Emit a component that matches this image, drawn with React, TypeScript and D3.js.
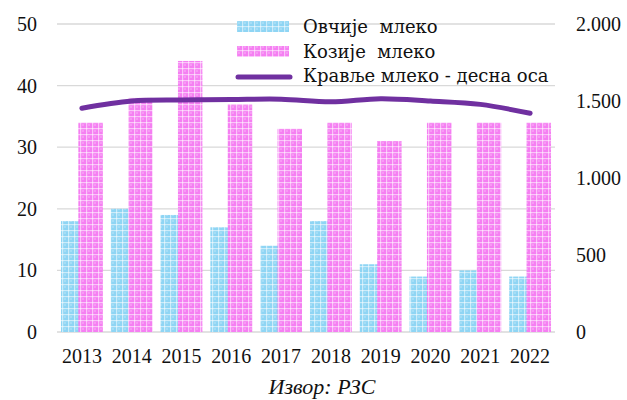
import React from "react";
import * as d3 from "d3";

const years = ["2013","2014","2015","2016","2017","2018","2019","2020","2021","2022"];
const sheepMilk = [18, 20, 19, 17, 14, 18, 11, 9, 10, 9];
const goatMilk = [34, 38, 44, 37, 33, 34, 31, 34, 34, 34];
const cowMilk = [1453, 1500, 1507, 1510, 1512, 1495, 1515, 1500, 1478, 1420];
const leftTicks = [0, 10, 20, 30, 40, 50];
const rightTicks = [0, 500, 1000, 1500, 2000];
const legendLabels = ["Овчије  млеко", "Козије  млеко", "Кравље млеко - десна оса"];
const sourceText = "Извор: РЗС";

export default function App() {
  const W = 627, H = 400;
  const left = 57, right = 555, top = 24, bottom = 332;
  const x = d3.scaleBand<string>().domain(years).range([left, right]).paddingInner(0.16).paddingOuter(0.08);
  const yL = d3.scaleLinear().domain([0, 50]).range([bottom, top]);
  const yR = d3.scaleLinear().domain([0, 2000]).range([bottom, top]);
  const bw = x.bandwidth();
  const barW = bw * 0.585;
  const fmt = (v: number) => v === 0 ? "0" : d3.format(",")(v).replace(/,/g, ".");
  const line = d3.line<number>()
    .x((_, i) => (x(years[i]) as number) + bw / 2)
    .y((d) => yR(d))
    .curve(d3.curveCatmullRom.alpha(0.5));
  const font = "'Liberation Serif', serif";
  const legendFont = "'DejaVu Serif', serif";

  return (
    <svg width={W} height={H} style={{ position: "absolute", left: 0, top: 0 }} fontFamily={font}>
      <defs>
        <pattern id="pBlue" width="6" height="6" patternUnits="userSpaceOnUse">
          <rect width="6" height="6" fill="#8fd5f4" />
          <rect x="0" y="2" width="6" height="1.2" fill="#ffffff" opacity="0.55" />
          <rect x="2" y="0" width="1.2" height="6" fill="#ffffff" opacity="0.55" />
          <rect x="4.5" y="4.5" width="1" height="1" fill="#ffffff" opacity="0.8" />
        </pattern>
        <pattern id="pPink" width="6" height="6" patternUnits="userSpaceOnUse">
          <rect width="6" height="6" fill="#f57ff2" />
          <rect x="0" y="2" width="6" height="1.2" fill="#ffffff" opacity="0.55" />
          <rect x="2" y="0" width="1.2" height="6" fill="#ffffff" opacity="0.55" />
          <rect x="4.5" y="4.5" width="1" height="1" fill="#ffffff" opacity="0.8" />
        </pattern>
      </defs>
      <rect width={W} height={H} fill="#fff" />
      {leftTicks.map((t) => (
        <line key={"g" + t} x1={left} x2={right} y1={yL(t)} y2={yL(t)} stroke="#d9d9d9" strokeWidth={1.3} />
      ))}
      {leftTicks.map((t) => (
        <text key={"l" + t} x={37} y={yL(t) + 7} textAnchor="end" fontSize={20} fill="#111">{t}</text>
      ))}
      {rightTicks.map((t) => (
        <text key={"r" + t} x={576} y={yR(t) + 7} textAnchor="start" fontSize={20} fill="#111">{fmt(t)}</text>
      ))}
      {years.map((yr, i) => (
        <g key={yr}>
          <rect x={x(yr) as number} y={yL(sheepMilk[i])} width={barW} height={bottom - yL(sheepMilk[i])} fill="url(#pBlue)" />
          <rect x={(x(yr) as number) + bw - barW} y={yL(goatMilk[i])} width={barW} height={bottom - yL(goatMilk[i])} fill="url(#pPink)" />
          <text x={(x(yr) as number) + bw / 2} y={363} textAnchor="middle" fontSize={20} fill="#111">{yr}</text>
        </g>
      ))}
      <path d={line(cowMilk) as string} fill="none" stroke="#7030a0" strokeWidth={5} strokeLinecap="round" />
      <rect x={237} y={21} width={52} height={11} fill="url(#pBlue)" />
      <rect x={237} y={46} width={52} height={11} fill="url(#pPink)" />
      <line x1={238} x2={290} y1={77} y2={77} stroke="#7030a0" strokeWidth={5} strokeLinecap="round" />
      {legendLabels.map((l, i) => (
        <text key={l} x={303} y={33 + i * 24.5} fontSize={18} fontFamily={legendFont} fill="#111" style={{ whiteSpace: "pre" }}>{l}</text>
      ))}
      <text x={322} y={394} textAnchor="middle" fontSize={22} fontStyle="italic" fill="#111">{sourceText}</text>
    </svg>
  );
}
